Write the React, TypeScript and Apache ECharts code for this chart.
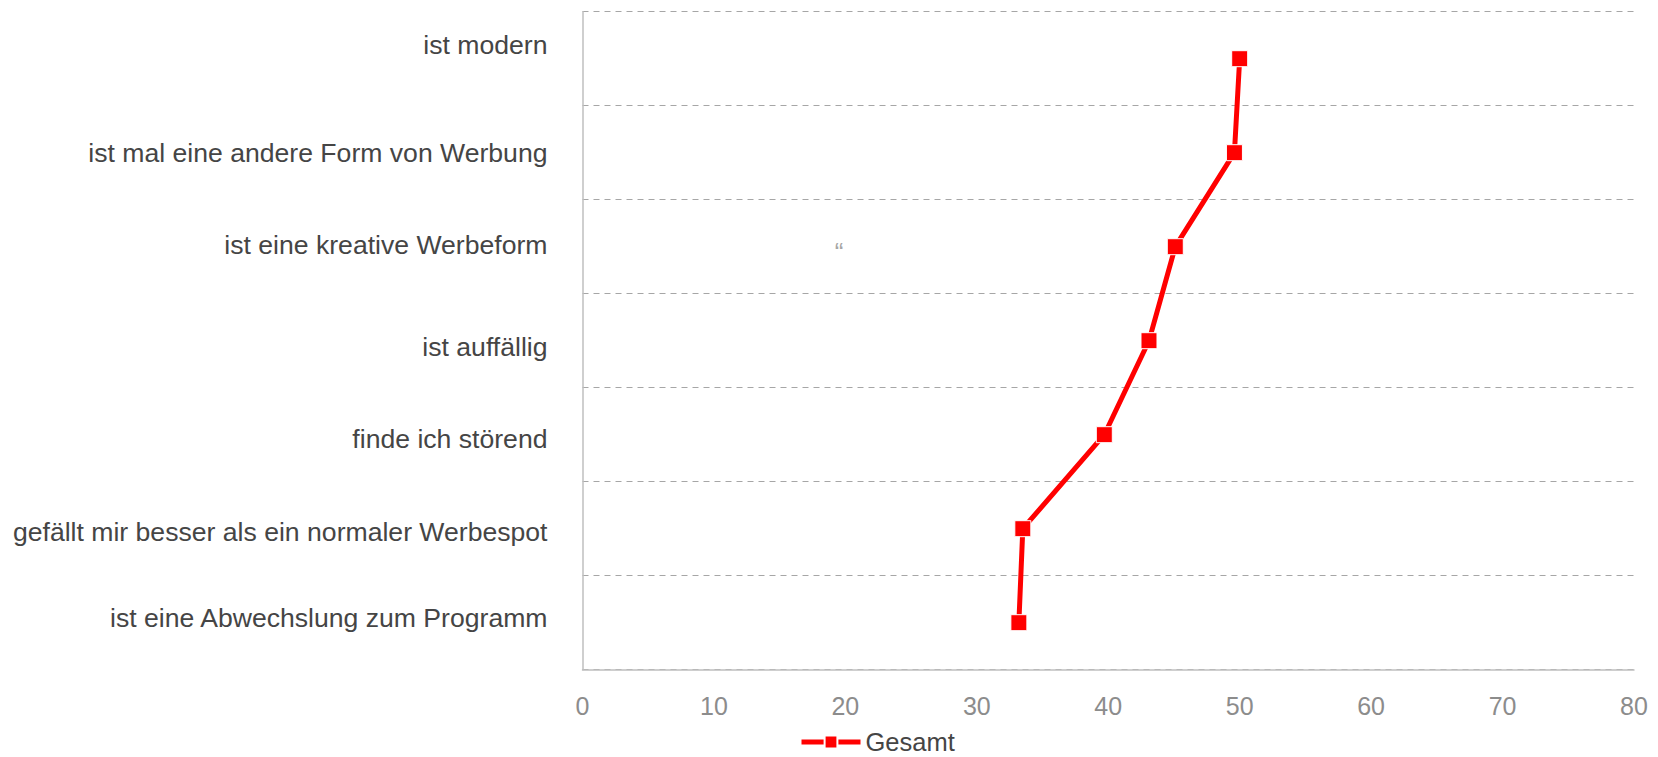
import React, { useEffect, useRef } from "react";
import * as echarts from "echarts";

// Statements, top to bottom
const categories: string[] = [
  "ist modern",
  "ist mal eine andere Form von Werbung",
  "ist eine kreative Werbeform",
  "ist auffällig",
  "finde ich störend",
  "gefällt mir besser als ein normaler Werbespot",
  "ist eine Abwechslung zum Programm",
];

// Agreement per statement (Gesamt)
const gesamt: number[] = [50.0, 49.6, 45.1, 43.1, 39.7, 33.5, 33.2];

const seriesName = "Gesamt";

// x axis ticks
const xMin = 0;
const xMax = 80;
const xStep = 10;

// Vertical nudges of the category labels (px, negative = up)
const labelNudge: number[] = [-14, 0, -2, 6, 4, 3, -5];

const FONT = "'Liberation Sans', Arial, Helvetica, sans-serif";

export default function App() {
  const ref = useRef<HTMLDivElement>(null);

  useEffect(() => {
    if (!ref.current) return;
    const chart = echarts.init(ref.current, undefined, { renderer: "svg" });

    const rich: Record<string, any> = {};
    labelNudge.forEach((d, i) => {
      rich["n" + i] = {
        fontFamily: FONT,
        fontSize: 26.6,
        color: "#454545",
        padding: d < 0 ? [0, 0, -2 * d, 0] : [2 * d, 0, 0, 0],
      };
    });

    chart.setOption({
      animation: false,
      backgroundColor: "#ffffff",
      textStyle: { fontFamily: FONT },
      grid: {
        left: 582.5,
        right: 24,
        top: 11.7,
        bottom: 87.3,
        containLabel: false,
      },
      xAxis: {
        type: "value",
        min: xMin,
        max: xMax,
        interval: xStep,
        axisLine: { show: true, lineStyle: { color: "#bfbfbf", width: 1.5 } },
        axisTick: { show: false },
        splitLine: { show: false },
        axisLabel: {
          color: "#8c8c8c",
          fontSize: 25,
          fontFamily: FONT,
          margin: 24,
        },
      },
      yAxis: {
        type: "category",
        inverse: true,
        data: categories,
        boundaryGap: true,
        axisLine: { show: true, lineStyle: { color: "#bfbfbf", width: 1.5 } },
        axisTick: { show: false },
        splitLine: {
          show: true,
          lineStyle: { color: "#a6a6a6", width: 1, type: [6, 5] },
        },
        axisLabel: {
          margin: 35,
          fontSize: 26.6,
          color: "#454545",
          fontFamily: FONT,
          formatter: (value: string, index: number) => `{n${index}|${value}}`,
          rich,
        },
      },
      legend: {
        data: [seriesName],
        left: 799,
        top: 729,
        padding: 0,
        itemWidth: 59,
        itemHeight: 16,
        lineStyle: { width: 5 },
        textStyle: { fontSize: 25.5, lineHeight: 24, color: "#454545", fontFamily: FONT },
      },
      graphic: [
        {
          type: "text",
          x: 839,
          y: 252,
          style: {
            text: "\u201C",
            fontSize: 26,
            fontFamily: FONT,
            fill: "#a6a6a6",
            align: "center",
            verticalAlign: "middle",
          },
        },
      ],
      series: [
        {
          name: seriesName,
          type: "line",
          data: gesamt.map((v, i) => [v, categories[i]]),
          symbol: "rect",
          symbolSize: 16,
          lineStyle: { color: "#ff0000", width: 5 },
          itemStyle: { color: "#ff0000", borderColor: "#ffffff", borderWidth: 1 },
          z: 3,
        },
      ],
    });

    return () => chart.dispose();
  }, []);

  return (
    <div
      ref={ref}
      style={{ position: "fixed", left: 0, top: 0, width: 1658, height: 757, background: "#fff" }}
    />
  );
}
